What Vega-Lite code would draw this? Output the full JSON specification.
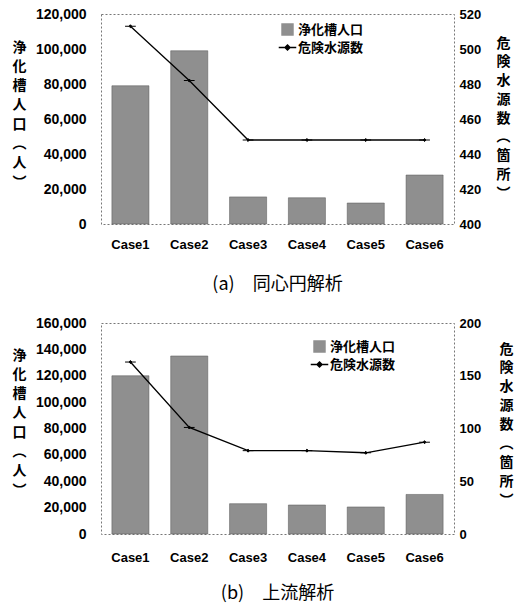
{
  "$schema": "https://vega.github.io/schema/vega-lite/v6.json",
  "padding": {"left": 11, "top": 6, "right": 5, "bottom": 3},
  "spacing": 20,
  "datasets": {
    "a": [
      {"case": "Case1", "pop": 79000, "src": 513},
      {"case": "Case2", "pop": 99000, "src": 482},
      {"case": "Case3", "pop": 15500, "src": 448},
      {"case": "Case4", "pop": 15000, "src": 448},
      {"case": "Case5", "pop": 12000, "src": 448},
      {"case": "Case6", "pop": 28000, "src": 448}
    ],
    "b": [
      {"case": "Case1", "pop": 120000, "src": 163},
      {"case": "Case2", "pop": 135000, "src": 101},
      {"case": "Case3", "pop": 23000, "src": 79},
      {"case": "Case4", "pop": 22000, "src": 79},
      {"case": "Case5", "pop": 20500, "src": 77},
      {"case": "Case6", "pop": 30000, "src": 87}
    ]
  },
  "config": {
    "font": "Liberation Sans",
    "view": {"stroke": "#777", "strokeDash": [2, 2], "strokeWidth": 1},
    "axis": {
      "grid": false, "domain": false, "ticks": false,
      "labelFont": "Liberation Sans", "labelFontWeight": "bold", "labelColor": "#000",
      "titleFont": "Noto Sans CJK JP", "titleFontWeight": "bold", "titleColor": "#000", "titleFontSize": 14,
      "titleAngle": 0, "titleAlign": "center", "titleBaseline": "top"
    },
    "legend": {
      "labelFont": "Noto Sans CJK JP", "labelFontWeight": "bold", "labelFontSize": 13, "labelColor": "#000",
      "title": null, "rowPadding": 3, "symbolSize": 120
    }
  },
  "resolve": {
    "scale": {"color": "independent", "shape": "independent"},
    "legend": {"color": "independent", "shape": "independent"}
  },
  "vconcat": [
    {
      "width": 353, "height": 210,
      "data": {"name": "a"},
      "title": {"text": "(a)　同心円解析", "orient": "bottom", "offset": 25, "font": "Noto Sans CJK JP", "fontSize": 18, "fontWeight": "normal", "color": "#000"},
      "encoding": {
        "x": {"field": "case", "type": "nominal", "sort": null,
              "scale": {"paddingInner": 0.37, "paddingOuter": 0.185},
              "axis": {"title": null, "labelAngle": 0, "labelPadding": 14, "labelFontSize": 13}}
      },
      "layer": [
        {
          "mark": {"type": "bar", "stroke": "#555", "strokeWidth": 0.5},
          "encoding": {
            "y": {"field": "pop", "type": "quantitative",
                  "scale": {"domain": [0, 120000]},
                  "axis": {"values": [0, 20000, 40000, 60000, 80000, 100000, 120000], "format": ",.0f", "labelFontSize": 14, "labelPadding": 15,
                           "title": ["浄", "化", "槽", "人", "口", "︵", "人", "︶"], "titleLineHeight": 19.3, "titleX": -82, "titleY": 26}},
            "color": {"datum": "浄化槽人口", "type": "nominal",
                      "scale": {"domain": ["浄化槽人口", "危険水源数"], "range": ["#8f8f8f", "#000000"]},
                      "legend": {"orient": "none", "legendX": 180, "legendY": 9}}
          }
        },
        {
          "encoding": {
            "y": {"field": "src", "type": "quantitative",
                  "scale": {"domain": [400, 520]},
                  "axis": {"orient": "right", "values": [400, 420, 440, 460, 480, 500, 520], "labelFontSize": 13, "labelPadding": 5,
                           "title": ["危", "険", "水", "源", "数", "︵", "箇", "所", "︶"], "titleLineHeight": 18.75, "titleX": 49, "titleY": 22}}
          },
          "layer": [
            {"mark": {"type": "line", "strokeWidth": 1.3},
             "encoding": {"color": {"datum": "危険水源数", "type": "nominal"}}},
            {"mark": {"type": "point", "filled": true, "size": 45, "stroke": "#000", "strokeWidth": 1, "opacity": 1},
             "encoding": {
               "shape": {"datum": "危険水源数", "type": "nominal",
                         "scale": {"domain": ["浄化槽人口", "危険水源数"], "range": ["square", "M-1.6,0H-0.45M0.45,0H1.6M0,-0.45L0.45,0L0,0.45L-0.45,0Z"]}},
               "color": {"datum": "危険水源数", "type": "nominal"}
             }}
          ]
        }
      ],
      "resolve": {"scale": {"y": "independent"}}
    },
    {
      "width": 353, "height": 211,
      "data": {"name": "b"},
      "title": {"text": "(b)　上流解析", "orient": "bottom", "offset": 21, "font": "Noto Sans CJK JP", "fontSize": 18, "fontWeight": "normal", "color": "#000"},
      "encoding": {
        "x": {"field": "case", "type": "nominal", "sort": null,
              "scale": {"paddingInner": 0.37, "paddingOuter": 0.185},
              "axis": {"title": null, "labelAngle": 0, "labelPadding": 17, "labelFontSize": 13}}
      },
      "layer": [
        {
          "mark": {"type": "bar", "stroke": "#555", "strokeWidth": 0.5},
          "encoding": {
            "y": {"field": "pop", "type": "quantitative",
                  "scale": {"domain": [0, 160000]},
                  "axis": {"values": [0, 20000, 40000, 60000, 80000, 100000, 120000, 140000, 160000], "format": ",.0f", "labelFontSize": 14, "labelPadding": 15,
                           "title": ["浄", "化", "槽", "人", "口", "︵", "人", "︶"], "titleLineHeight": 19.3, "titleX": -82, "titleY": 25}},
            "color": {"datum": "浄化槽人口", "type": "nominal",
                      "scale": {"domain": ["浄化槽人口", "危険水源数"], "range": ["#8f8f8f", "#000000"]},
                      "legend": {"orient": "none", "legendX": 212, "legendY": 17}}
          }
        },
        {
          "encoding": {
            "y": {"field": "src", "type": "quantitative",
                  "scale": {"domain": [0, 200]},
                  "axis": {"orient": "right", "values": [0, 50, 100, 150, 200], "labelFontSize": 13, "labelPadding": 5,
                           "title": ["危", "険", "水", "源", "数", "︵", "箇", "所", "︶"], "titleLineHeight": 18.9, "titleX": 52, "titleY": 19}}
          },
          "layer": [
            {"mark": {"type": "line", "strokeWidth": 1.3},
             "encoding": {"color": {"datum": "危険水源数", "type": "nominal"}}},
            {"mark": {"type": "point", "filled": true, "size": 45, "stroke": "#000", "strokeWidth": 1, "opacity": 1},
             "encoding": {
               "shape": {"datum": "危険水源数", "type": "nominal",
                         "scale": {"domain": ["浄化槽人口", "危険水源数"], "range": ["square", "M-1.6,0H-0.45M0.45,0H1.6M0,-0.45L0.45,0L0,0.45L-0.45,0Z"]}},
               "color": {"datum": "危険水源数", "type": "nominal"}
             }}
          ]
        }
      ],
      "resolve": {"scale": {"y": "independent"}}
    }
  ]
}
